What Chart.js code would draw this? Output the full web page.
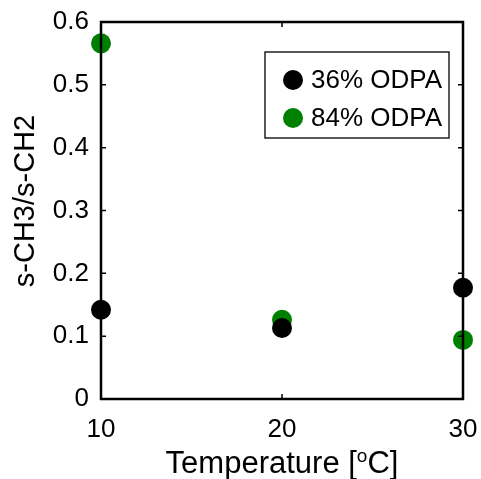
<!DOCTYPE html>
<html>
<head>
<meta charset="utf-8">
<script src="https://cdn.jsdelivr.net/npm/chart.js@4"></script>
<style>
  html, body { margin: 0; padding: 0; background: #fff; }
</style>
</head>
<body>
<canvas id="grafico" width="481" height="479"></canvas>
<script>
// ===== DADOS =====
const temperaturas = [10, 20, 30];
const odpa36 = [0.142, 0.113, 0.177];
const odpa84 = [0.566, 0.126, 0.094];
const rotulos = ["36% ODPA", "84% ODPA"];
const cores = ["#000000", "#008000"];
const xTicks = [10, 20, 30];
const yTicks = [0, 0.1, 0.2, 0.3, 0.4, 0.5, 0.6];

const FONTE = '"Liberation Sans", Arial, Helvetica, sans-serif';

function pontos(valores) {
    return temperaturas.map((t, i) => ({ x: t, y: valores[i] }));
}

function serie(label, valores, cor) {
    return {
        label: label,
        data: pontos(valores),
        backgroundColor: cor,
        borderColor: cor,
        borderWidth: 0,
        pointRadius: 10,
        pointHoverRadius: 10,
        clip: false
    };
}

// caixa do eixo, ticks internos, títulos e legenda
const moldura = {
    id: "moldura",
    afterDraw(chart) {
        const ctx = chart.ctx;
        const a = chart.chartArea;
        const sx = chart.scales.x;
        const sy = chart.scales.y;

        ctx.save();
        ctx.strokeStyle = "#000";
        ctx.lineWidth = 2.5;
        ctx.strokeRect(a.left, a.top, a.right - a.left, a.bottom - a.top);

        ctx.lineWidth = 1.5;
        const tam = 5;
        ctx.beginPath();
        xTicks.forEach(v => {
            const px = sx.getPixelForValue(v);
            ctx.moveTo(px, a.bottom); ctx.lineTo(px, a.bottom - tam);
            ctx.moveTo(px, a.top); ctx.lineTo(px, a.top + tam);
        });
        yTicks.forEach(v => {
            const py = sy.getPixelForValue(v);
            ctx.moveTo(a.left, py); ctx.lineTo(a.left + tam, py);
            ctx.moveTo(a.right, py); ctx.lineTo(a.right - tam, py);
        });
        ctx.stroke();

        // título do eixo y
        ctx.fillStyle = "#000";
        ctx.font = "29px " + FONTE;
        ctx.textAlign = "center";
        ctx.textBaseline = "middle";
        ctx.save();
        ctx.translate(26, 201);
        ctx.rotate(-Math.PI / 2);
        ctx.fillText("s-CH3/s-CH2", 0, 0);
        ctx.restore();

        // título do eixo x com o "o" sobrescrito
        const p1 = "Temperature [", sup = "o", p2 = "C]";
        ctx.textAlign = "left";
        ctx.textBaseline = "alphabetic";
        ctx.font = "31px " + FONTE;
        const w1 = ctx.measureText(p1).width;
        const w3 = ctx.measureText(p2).width;
        ctx.font = "19px " + FONTE;
        const w2 = ctx.measureText(sup).width;
        const x0 = 282 - (w1 + w2 + w3) / 2;
        const base = 473;
        ctx.font = "31px " + FONTE;
        ctx.fillText(p1, x0, base);
        ctx.font = "19px " + FONTE;
        ctx.fillText(sup, x0 + w1, base - 11);
        ctx.font = "31px " + FONTE;
        ctx.fillText(p2, x0 + w1 + w2, base);

        // legenda
        const lx = 265, ly = 52, lw = 184, lh = 86;
        ctx.fillStyle = "#fff";
        ctx.fillRect(lx, ly, lw, lh);
        ctx.strokeStyle = "#222";
        ctx.lineWidth = 1.5;
        ctx.strokeRect(lx, ly, lw, lh);
        ctx.font = "26px " + FONTE;
        ctx.textBaseline = "middle";
        chart.data.datasets.forEach((ds, i) => {
            const cy = ly + 28 + i * 38;
            ctx.fillStyle = ds.backgroundColor;
            ctx.beginPath();
            ctx.arc(lx + 28, cy, 10, 0, Math.PI * 2);
            ctx.fill();
            ctx.fillStyle = "#000";
            ctx.fillText(ds.label, lx + 46, cy + 1);
        });
        ctx.restore();
    }
};

new Chart(document.getElementById("grafico"), {
    type: "scatter",
    data: {
        datasets: [
            serie(rotulos[0], odpa36, cores[0]),
            serie(rotulos[1], odpa84, cores[1])
        ]
    },
    options: {
        responsive: false,
        animation: false,
        events: [],
        layout: { padding: { left: 0, top: 22, right: 18, bottom: 0 } },
        plugins: {
            legend: { display: false },
            tooltip: { enabled: false }
        },
        scales: {
            x: {
                type: "linear",
                min: 10,
                max: 30,
                afterBuildTicks: s => { s.ticks = xTicks.map(v => ({ value: v })); },
                afterFit: s => { s.height = 80; s.paddingLeft = 0; s.paddingRight = 0; },
                grid: { display: false, drawTicks: false },
                border: { display: false },
                ticks: {
                    color: "#000",
                    font: { size: 26, family: FONTE },
                    padding: 15,
                    maxRotation: 0,
                    callback: v => String(v)
                }
            },
            y: {
                type: "linear",
                min: 0,
                max: 0.6,
                afterBuildTicks: s => { s.ticks = yTicks.map(v => ({ value: v })); },
                afterFit: s => { s.width = 101; s.paddingTop = 0; s.paddingBottom = 0; },
                grid: { display: false, drawTicks: false },
                border: { display: false },
                ticks: {
                    color: "#000",
                    font: { size: 26, family: FONTE },
                    padding: 12,
                    callback: v => String(Math.round(v * 10) / 10)
                }
            }
        }
    },
    plugins: [moldura]
});
</script>
</body>
</html>
